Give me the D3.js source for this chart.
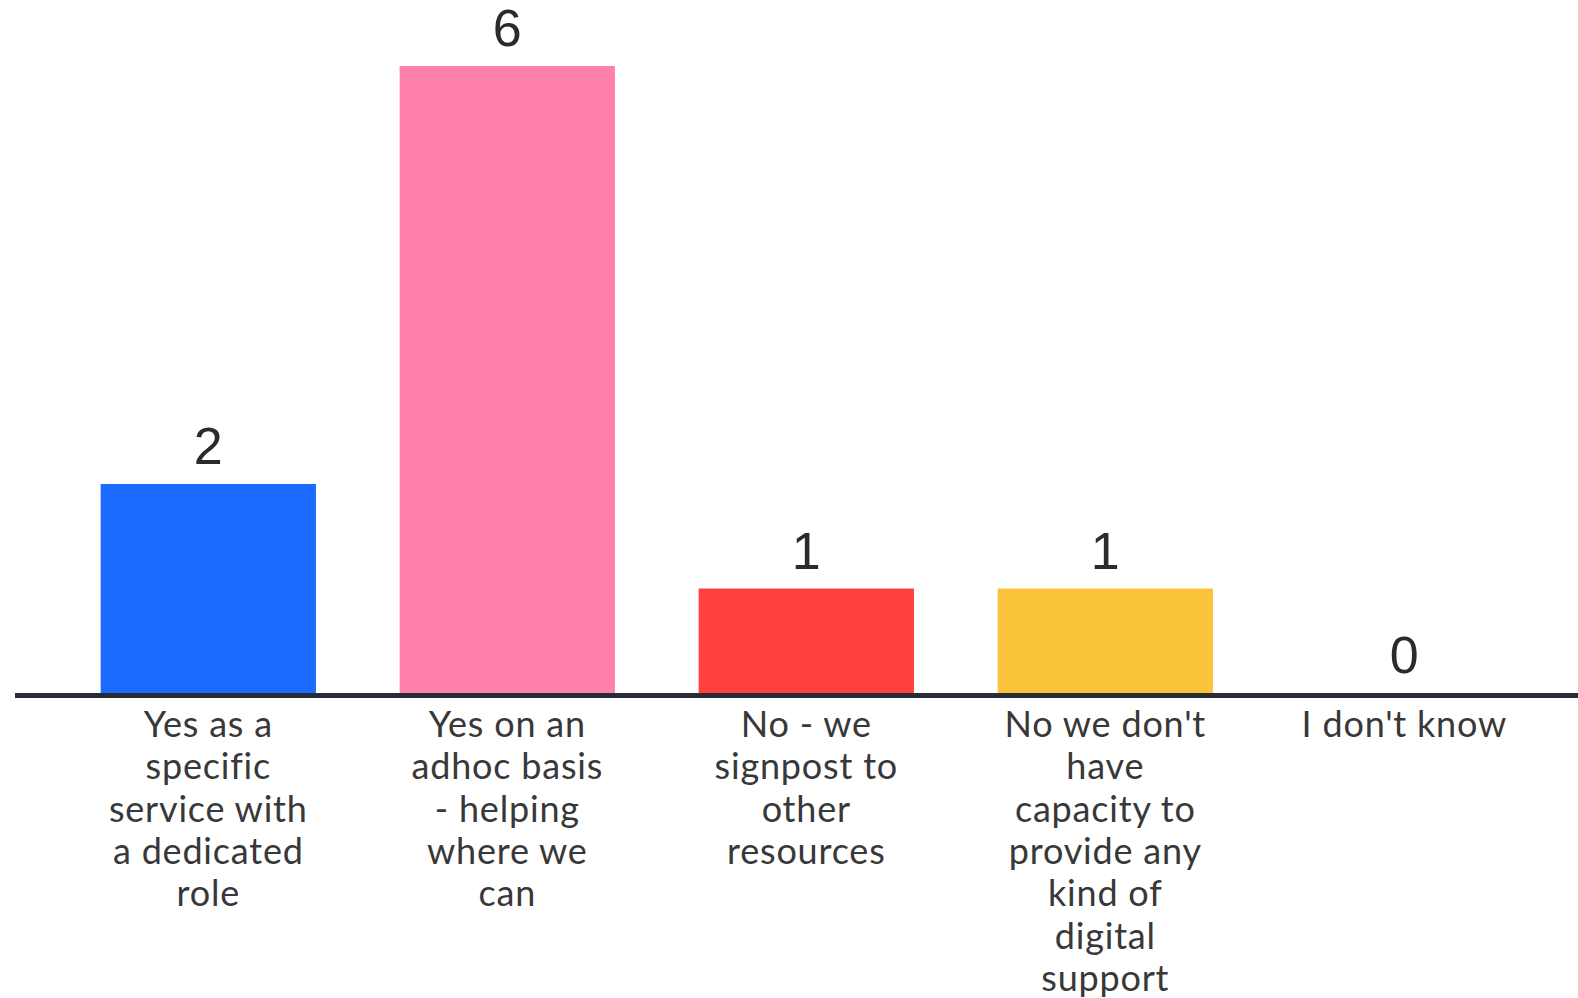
<!DOCTYPE html>
<html>
<head>
<meta charset="utf-8">
<script src="https://cdn.jsdelivr.net/npm/d3@7"></script>
<style>
  html, body { margin: 0; padding: 0; background: #fff; }
  svg { display: block; }
</style>
</head>
<body>
<div id="chart"></div>
<script>
var categories = [
    "Yes as a specific service with a dedicated role",
    "Yes on an adhoc basis - helping where we can",
    "No - we signpost to other resources",
    "No we don't have capacity to provide any kind of digital support",
    "I don't know"
]
// the label lines as wrapped in the picture
var labelLines = [
    ["Yes as a", "specific", "service with", "a dedicated", "role"],
    ["Yes on an", "adhoc basis", "- helping", "where we", "can"],
    ["No - we", "signpost to", "other", "resources"],
    ["No we don't", "have", "capacity to", "provide any", "kind of", "digital", "support"],
    ["I don't know"]
]
var values = [2, 6, 1, 1, 0]
var colors = ["#1b6bff", "#ff80aa", "#ff403e", "#fbc43b", "#c0c0c0"]

var width = 1578, height = 998

var svg = d3.select("#chart")
    .append("svg")
    .attr("width", width)
    .attr("height", height)

var x = d3.scaleBand()
    .domain(categories)
    .range([58.8, 1553.8])
    .paddingInner(0.28)
    .paddingOuter(0.14)

var y = d3.scaleLinear()
    .domain([0, 6])
    .range([693, 66])

// bars
svg.selectAll(".bar")
    .data(categories)
    .enter()
    .append("rect")
        .attr("class", "bar")
        .attr("x", d => x(d))
        .attr("y", (d, i) => y(values[i]))
        .attr("width", x.bandwidth())
        .attr("height", (d, i) => y(0) - y(values[i]))
        .attr("fill", (d, i) => colors[i])

// baseline
svg.append("line")
    .attr("x1", 15)
    .attr("x2", width)
    .attr("y1", y(0) + 2.5)
    .attr("y2", y(0) + 2.5)
    .attr("stroke", "#272c35")
    .attr("stroke-width", 5)

// value labels
svg.selectAll(".val")
    .data(categories)
    .enter()
    .append("text")
        .attr("class", "val")
        .attr("x", d => x(d) + x.bandwidth() / 2)
        .attr("y", (d, i) => y(values[i]) - 20)
        .attr("text-anchor", "middle")
        .style("font-family", "'Liberation Sans', Arial, sans-serif")
        .style("font-size", "52px")
        .style("fill", "#2b2b2b")
        .text((d, i) => values[i])

// category labels
var lab = svg.selectAll(".cat")
    .data(categories)
    .enter()
    .append("text")
        .attr("class", "cat")
        .attr("text-anchor", "middle")
        .style("font-family", "Lato, sans-serif")
        .style("font-size", "36px")
        .style("letter-spacing", "0.8px")
        .style("fill", "#383838")

lab.each(function (d, i) {
    var t = d3.select(this)
    labelLines[i].forEach(function (line, k) {
        t.append("tspan")
            .attr("x", x(d) + x.bandwidth() / 2)
            .attr("y", 737 + k * 42.3)
            .text(line)
    })
})
</script>
</body>
</html>
